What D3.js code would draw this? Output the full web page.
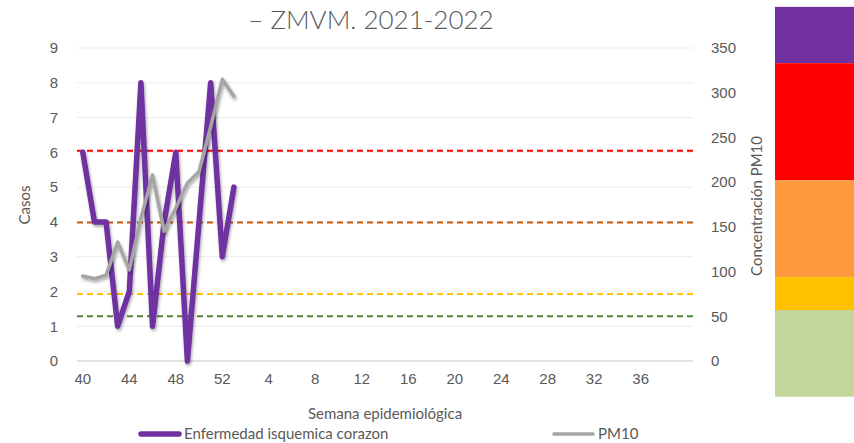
<!DOCTYPE html>
<html>
<head>
<meta charset="utf-8">
<script src="https://cdn.jsdelivr.net/npm/d3@7"></script>
<style>
  body { margin: 0; background: #fff; }
  svg { display: block; font-family: Lato, "Open Sans", sans-serif; }
  .tick text { fill: #595959; }
</style>
</head>
<body>
<div id="chart"></div>
<script>
// semanas epidemiologicas (2021: 40-52, 2022: 1-40)
var weeks = [40, 41, 42, 43, 44, 45, 46, 47, 48, 49, 50, 51, 52,
  1, 2, 3, 4, 5, 6, 7, 8, 9, 10, 11, 12, 13, 14, 15, 16, 17, 18, 19, 20,
  21, 22, 23, 24, 25, 26, 27, 28, 29, 30, 31, 32, 33, 34, 35, 36, 37, 38, 39, 40];
var xTickLabels = ["40", "44", "48", "52", "4", "8", "12", "16", "20", "24", "28", "32", "36"];
var casos = [6, 4, 4, 1, 2, 8, 1, 4, 6, 0, 4, 8, 3, 5];
var pm10 = [95, 92, 96, 133, 102, 160, 208, 145, 171, 199, 212, 262, 315, 296];
var leftTicks = [0, 1, 2, 3, 4, 5, 6, 7, 8, 9];
var rightTicks = [0, 50, 100, 150, 200, 250, 300, 350];
// limites de PM10 (lineas punteadas)
var limits = [235, 155, 75, 50];
var limitColors = ["#FF0000", "#C55A11", "#FFC000", "#548235"];
// escala de colores a la derecha (valores PM10)
var bandEdges = [396, 333, 202, 94, 57, -40];
var bandColors = ["#7030A0", "#FF0000", "#FF9A3C", "#FFC000", "#C4D79B"];

var svgWidth = 854;
var svgHeight = 443;

var svg = d3.select("#chart")
  .append("svg")
  .attr("width", svgWidth)
  .attr("height", svgHeight);

var defs = svg.append("defs");
defs.append("filter")
  .attr("id", "shadow")
  .attr("x", "-20%").attr("y", "-20%")
  .attr("width", "140%").attr("height", "140%")
  .append("feDropShadow")
  .attr("dx", 1).attr("dy", 2)
  .attr("stdDeviation", 1.5)
  .attr("flood-color", "#000")
  .attr("flood-opacity", 0.35);

var x = d3.scaleBand()
  .domain(d3.range(weeks.length))
  .range([77, 693]);

var yL = d3.scaleLinear().domain([0, 9]).range([361, 48]);
var yR = d3.scaleLinear().domain([0, 350]).range([361, 48]);

// bandas de color
svg.append("g").selectAll("rect")
  .data(bandColors)
  .enter()
  .append("rect")
  .attr("x", 775)
  .attr("width", 80)
  .attr("y", (d, i) => yR(bandEdges[i]))
  .attr("height", (d, i) => yR(bandEdges[i + 1]) - yR(bandEdges[i]))
  .attr("fill", d => d);

// titulo
svg.append("text")
  .attr("x", 371)
  .attr("y", 29)
  .attr("text-anchor", "middle")
  .style("font-size", "26px")
  .style("font-weight", 300)
  .attr("fill", "#595959")
  .text("– ZMVM. 2021-2022");

// gridlines
svg.append("g").selectAll("line")
  .data(leftTicks)
  .enter()
  .append("line")
  .attr("x1", 77).attr("x2", 693)
  .attr("y1", d => yL(d)).attr("y2", d => yL(d))
  .attr("stroke", d => d === 0 ? "#d9d9d9" : "#ececec")
  .attr("stroke-width", d => d === 0 ? 1.5 : 1);

// ejes
var leftAxis = d3.axisLeft(yL).tickValues(leftTicks).tickSize(0).tickPadding(0);
var gL = svg.append("g").attr("transform", "translate(58,0)").call(leftAxis);
gL.select(".domain").remove();
gL.selectAll("text").style("font-size", "15px");

var rightAxis = d3.axisRight(yR).tickValues(rightTicks).tickSize(0).tickPadding(0);
var gR = svg.append("g").attr("transform", "translate(711,0)").call(rightAxis);
gR.select(".domain").remove();
gR.selectAll("text").style("font-size", "15px");

var tickIdx = xTickLabels.map((d, i) => i * 4);
var bottomAxis = d3.axisBottom(x)
  .tickValues(tickIdx)
  .tickFormat((d, i) => xTickLabels[i])
  .tickSize(0).tickPadding(0);
var gX = svg.append("g").attr("transform", "translate(0,373)").call(bottomAxis);
gX.select(".domain").remove();
gX.selectAll("text").style("font-size", "15px");

// titulos de ejes
svg.append("text")
  .attr("transform", "translate(30,205) rotate(-90)")
  .attr("text-anchor", "middle")
  .style("font-size", "15px")
  .attr("fill", "#595959")
  .text("Casos");

svg.append("text")
  .attr("transform", "translate(762,206) rotate(-90)")
  .attr("text-anchor", "middle")
  .style("font-size", "15px")
  .attr("fill", "#595959")
  .text("Concentración PM10");

svg.append("text")
  .attr("x", 385)
  .attr("y", 419)
  .attr("text-anchor", "middle")
  .style("font-size", "15px")
  .attr("fill", "#595959")
  .text("Semana epidemiológica");

// lineas limite
svg.append("g").selectAll("line")
  .data(limits)
  .enter()
  .append("line")
  .attr("x1", 77).attr("x2", 693)
  .attr("y1", d => yR(d)).attr("y2", d => yR(d))
  .attr("stroke", (d, i) => limitColors[i])
  .attr("stroke-width", 2)
  .attr("stroke-dasharray", "6,4");

var cx = i => x(i) + x.bandwidth() / 2;

// casos
var lineCasos = d3.line().x((d, i) => cx(i)).y(d => yL(d));
svg.append("path")
  .datum(casos)
  .attr("d", lineCasos)
  .attr("fill", "none")
  .attr("stroke", "#7030A0")
  .attr("stroke-width", 5.5)
  .attr("stroke-linejoin", "round")
  .attr("stroke-linecap", "round")
  .attr("filter", "url(#shadow)");

// PM10
var linePM = d3.line().x((d, i) => cx(i)).y(d => yR(d));
svg.append("path")
  .datum(pm10)
  .attr("d", linePM)
  .attr("fill", "none")
  .attr("stroke", "#A5A5A5")
  .attr("stroke-width", 3.5)
  .attr("stroke-linejoin", "round")
  .attr("stroke-linecap", "round")
  .attr("filter", "url(#shadow)");

// leyenda
var legend = svg.append("g");
legend.append("line")
  .attr("x1", 141).attr("x2", 179).attr("y1", 434).attr("y2", 434)
  .attr("stroke", "#7030A0").attr("stroke-width", 5.5)
  .attr("stroke-linecap", "round");
legend.append("text")
  .attr("x", 184).attr("y", 439)
  .style("font-size", "15px")
  .attr("fill", "#595959")
  .text("Enfermedad isquemica corazon");
legend.append("line")
  .attr("x1", 554).attr("x2", 593).attr("y1", 434).attr("y2", 434)
  .attr("stroke", "#A5A5A5").attr("stroke-width", 3.5)
  .attr("stroke-linecap", "round");
legend.append("text")
  .attr("x", 598).attr("y", 439)
  .style("font-size", "15px")
  .attr("fill", "#595959")
  .text("PM10");
</script>
</body>
</html>
